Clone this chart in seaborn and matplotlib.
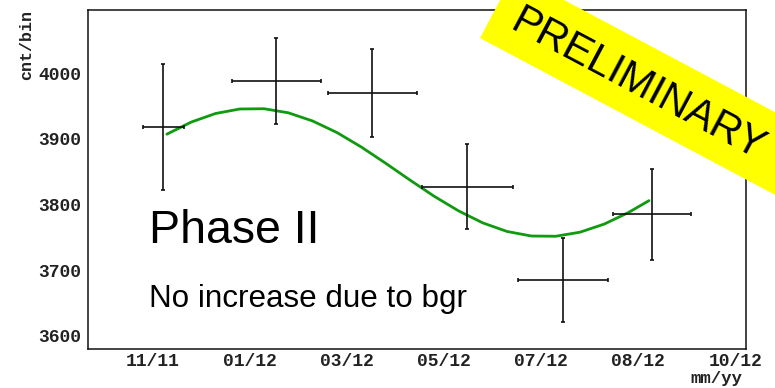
import matplotlib
matplotlib.use("Agg")
import matplotlib.pyplot as plt
from matplotlib.patches import Polygon
from matplotlib.ticker import MultipleLocator
import numpy as np
import pandas as pd
import seaborn as sns

# ---- data (x in units of one tick step, ~58 days) ----
tick_pos = [0, 1, 2, 3, 4, 5, 6]
tick_labels = ["11/11", "01/12", "03/12", "05/12", "07/12", "08/12", "10/12"]
y_ticks = [3600, 3700, 3800, 3900, 4000]

pt_x = [0.113, 1.278, 2.263, 3.241, 4.225, 5.141]
pt_xerr = [0.213, 0.461, 0.458, 0.466, 0.463, 0.404]
pt_y = [3918, 3988, 3970, 3827, 3685, 3785]
pt_yerr = [96, 66, 67, 64.5, 64, 69]

fit_x = [0.15, 0.40, 0.65, 0.90, 1.15, 1.40, 1.65, 1.90, 2.15, 2.40, 2.65,
         2.90, 3.15, 3.40, 3.65, 3.90, 4.15, 4.40, 4.65, 4.90, 5.11]
fit_y = [3907.2, 3925.6, 3938.7, 3945.6, 3946.0, 3939.8, 3927.3, 3909.7,
         3887.7, 3863.0, 3837.4, 3812.6, 3790.4, 3772.0, 3758.9, 3752.0,
         3751.6, 3757.8, 3770.2, 3787.9, 3805.9]

sns.set_theme(style="white")
plt.rcParams["font.family"] = ["Liberation Sans", "DejaVu Sans"]

W, H = 775, 388
fig = plt.figure(figsize=(W / 100, H / 100), dpi=100)
fig.patch.set_facecolor("white")
L, R, T, B = 88.3, 745.7, 10.0, 349.3
ax = fig.add_axes([L / W, 1 - B / H, (R - L) / W, (B - T) / H])
ax.set_facecolor("white")

fit_df = pd.DataFrame({"x": fit_x, "y": fit_y})
sns.lineplot(data=fit_df, x="x", y="y", ax=ax, color="#109a10", linewidth=2.0,
             sort=False, zorder=2)
ax.lines[-1].set_solid_joinstyle("round")

ax.errorbar(pt_x, pt_y, xerr=pt_xerr, yerr=pt_yerr, fmt="none", ecolor="#111111",
            elinewidth=1.2, capsize=1.2, capthick=1.2, zorder=3)

ax.set_xlim(-0.658, 6.105)
ax.set_ylim(3579.3, 4096.5)

mono = ["Liberation Mono", "DejaVu Sans Mono"]
ax.set_xticks(tick_pos)
ax.set_xticklabels(tick_labels, family=mono, fontsize=13, weight="bold", color="#222222")
ax.set_yticks(y_ticks)
ax.set_yticklabels([str(v) for v in y_ticks], family=mono, fontsize=13, weight="bold",
                   color="#222222")
ax.xaxis.set_minor_locator(MultipleLocator(1 / 3))
ax.yaxis.set_minor_locator(MultipleLocator(20))

ax.tick_params(axis="x", which="major", direction="in", length=7.2, width=0.9,
               color="#111111", pad=3, top=False)
ax.tick_params(axis="x", which="minor", direction="in", length=3.3, width=0.9,
               color="#111111", top=False)
ax.tick_params(axis="y", which="major", direction="in", length=13, width=0.9,
               color="#111111", pad=5, right=False)
ax.tick_params(axis="y", which="minor", direction="in", length=8, width=0.9,
               color="#111111", right=False)
for s in ax.spines.values():
    s.set_visible(True)
    s.set_color("#111111")
    s.set_linewidth(1.1)

ax.set_xlabel("")
ax.set_ylabel("")
fig.text(742 / W, 1 - 378 / H, "mm/yy", family=mono, fontsize=12.5, weight="bold",
         color="#222222", ha="right", va="center")
fig.text(27 / W, 1 - 10 / H, "cnt/bin", family=mono, fontsize=12, weight="bold",
         color="#222222", ha="center", va="top", rotation=90)

ax.text(149 / W, 1 - 242.7 / H, "Phase II", transform=fig.transFigure,
        fontsize=33.5, color="black", ha="left", va="baseline")
ax.text(149 / W, 1 - 306.7 / H, "No increase due to bgr", transform=fig.transFigure,
        fontsize=22.6, color="black", ha="left", va="baseline")

# PRELIMINARY banner
th = np.deg2rad(28)
d = np.array([np.cos(th), np.sin(th)])
nup = np.array([np.sin(th), -np.cos(th)])
A = np.array([480.0, 38.0])
wband = 73
Bp = A + wband * nup
Cp = Bp + 420 * d
Dp = A + 420 * d
poly = np.array([A, Bp, Cp, Dp])
poly_fig = np.column_stack([poly[:, 0] / W, 1 - poly[:, 1] / H])
fig.patches.append(Polygon(poly_fig, closed=True, transform=fig.transFigure,
                           facecolor="#ffff00", edgecolor="none", zorder=10))
cx, cy = 638.0, 85.0
fig.text(cx / W, 1 - cy / H, "PRELIMINARY", fontsize=30, color="black",
         rotation=-28, rotation_mode="anchor", ha="center", va="center", zorder=11)

fig.savefig("out.png", dpi=100, facecolor="white")
